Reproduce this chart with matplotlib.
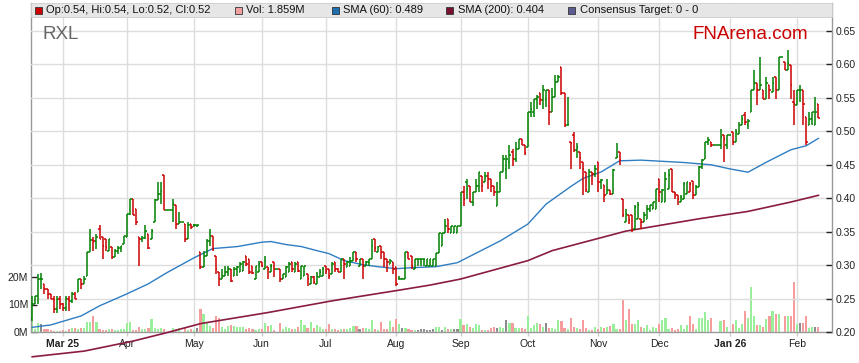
import numpy as np
import pandas as pd
import matplotlib
matplotlib.use("Agg")
import matplotlib.pyplot as plt
from matplotlib.collections import LineCollection
from matplotlib.patches import Rectangle

plt.rcParams['font.family'] = ['Liberation Sans', 'DejaVu Sans']

# ---- data, one bar per weekday 17 Feb 2025 - 11 Feb 2026 ----
opens = [
    .2200, .2415, .2540, .2790, .2715, .2640, .2565, .2490, .2340, .2490,  # Feb
    .2415, .2360, .2490, .2465, .2565, .2590, .2790, .2715, .2840, .3190, .3370, .3365, .3540, .3415, .3390, .3215, .3265, .3115, .3215, .3260, .3315,  # Mar
    .3415, .3765, .3990, .3840, .3415, .3390, .3410, .3465, .3390, .3640, .3965, .4065, .4340, .3815, .3815, .3815, .3890, .3615, .3640, .3615, .3390, .3615,  # Apr
    .3590, .3590, .3190, .2965, .3140, .3365, .3440, .3140, .2890, .2790, .2840, .2890, .2940, .2840, .2940, .2890, .2915, .3140, .3090, .2990, .2790, .2890,  # May
    .3040, .2940, .2965, .2890, .3040, .2940, .2940, .2790, .2815, .2890, .3040, .2890, .3040, .2790, .2840, .2865, .2715, .2815, .2715, .2815, .2840,  # Jun
    .2990, .2940, .2865, .3040, .2940, .2890, .3090, .2965, .2990, .3065, .3190, .2990, .3090, .2990, .3040, .3090, .3390, .3190, .3290, .3190, .3090, .3015, .3040,  # Jul
    .2965, .2790, .2790, .2790, .3190, .3140, .2940, .3090, .3090, .3090, .2990, .2990, .2985, .2985, .3185, .3285, .3485, .3685, .3485, .3485, .3485,  # Aug
    .3585, .4085, .4235, .4185, .3935, .4085, .4185, .4335, .4235, .4335, .4285, .4185, .3885, .4085, .4385, .4435, .4535, .4685, .4585, .4735, .4885, .4785,  # Sep
    .4760, .5285, .5285, .5485, .5560, .5460, .5460, .5610, .5285, .5510, .5735, .5960, .5560, .5085, .4840, .4940, .4715, .4690, .4540, .4390, .4090, .4390, .4365,  # Oct
    .4540, .4240, .4190, .4065, .4115, .4065, .4590, .4690, .3990, .3640, .3740, .3740, .3540, .3690, .3690, .3640, .3690, .3840, .3840, .3840,  # Nov
    .4290, .3940, .3940, .4140, .4440, .4090, .4040, .3940, .3990, .4065, .4090, .4260, .4040, .4160, .4460, .4585, .4835, .4835, .4785, .4785, .4785, .4935, .4785,  # Dec
    .4935, .4985, .4835, .4960, .5085, .5235, .5085, .5285, .5610, .5710, .5610, .5610, .5485, .5685, .5585, .5810, .5610, .6110, .6035, .5910, .5985, .5435,  # Jan
    .5385, .5610, .5610, .5210, .5085, .5185, .5085, .5400,  # Feb
]
highs = [
    .2540, .2540, .2865, .2880, .2715, .2640, .2565, .2540, .2540, .2540,
    .2440, .2540, .2540, .2590, .2590, .2790, .2790, .2840, .3190, .3540, .3415, .3465, .3590, .3415, .3390, .3390, .3265, .3240, .3290, .3290, .3440,
    .3765, .3990, .3990, .3840, .3415, .3440, .3590, .3465, .3540, .3990, .4240, .4240, .4340, .3815, .3815, .3990, .3890, .3790, .3640, .3615, .3640, .3615,
    .3615, .3600, .3190, .3215, .3390, .3540, .3440, .3140, .2890, .2940, .2990, .2990, .2940, .2965, .2990, .3040, .3065, .3140, .3090, .2990, .2990, .3065,
    .3040, .3140, .2965, .3015, .3040, .2940, .2940, .2865, .2990, .3040, .3040, .3040, .3040, .2990, .2990, .2865, .2840, .2840, .2890, .2940, .2965,
    .2990, .2940, .3040, .3040, .2960, .3090, .3090, .3065, .3115, .3190, .3190, .3090, .3090, .3060, .3090, .3390, .3390, .3290, .3290, .3190, .3090, .3090, .3040,
    .2965, .2840, .2810, .3190, .3190, .3140, .3090, .3090, .3090, .3090, .3090, .3090, .3090, .3185, .3485, .3485, .3685, .3685, .3585, .3585, .3585,
    .4085, .4185, .4285, .4185, .4085, .4285, .4385, .4335, .4385, .4385, .4285, .4185, .4235, .4385, .4635, .4635, .4785, .4735, .4835, .4885, .4885, .4785,
    .5285, .5435, .5485, .5535, .5560, .5685, .5610, .5610, .5635, .5835, .5835, .5960, .5570, .5510, .4840, .4990, .4815, .4690, .4540, .4390, .4440, .4390, .4490,
    .4540, .4290, .4190, .4290, .4115, .4440, .4815, .4690, .3990, .3840, .3740, .3740, .3890, .3940, .3690, .3790, .3890, .3890, .3940, .4140,
    .4290, .4140, .4390, .4440, .4440, .4090, .4040, .4040, .4240, .4240, .4240, .4260, .4190, .4485, .4585, .4835, .4910, .4835, .4785, .4785, .5035, .4935, .4935,
    .4935, .4985, .5035, .5135, .5235, .5285, .5185, .5610, .5910, .5710, .6110, .5610, .5810, .5685, .5810, .5810, .6110, .6110, .6035, .6210, .5985, .5610,
    .5610, .5685, .5610, .5210, .5285, .5285, .5510, .5400,
]
lows = [
    .2165, .2415, .2415, .2640, .2565, .2490, .2490, .2290, .2290, .2340,
    .2315, .2315, .2315, .2440, .2490, .2590, .2640, .2715, .2840, .3190, .3215, .3240, .3390, .3090, .3215, .3215, .3090, .3115, .3165, .3190, .3315,
    .3415, .3740, .3740, .3590, .2990, .3340, .3390, .3240, .3390, .3640, .3965, .3915, .3815, .3815, .3815, .3640, .3540, .3615, .3640, .3340, .3390, .3540,
    .3570, .3570, .2940, .2965, .3140, .3290, .3215, .2865, .2690, .2790, .2840, .2840, .2740, .2840, .2840, .2890, .2915, .2990, .2865, .2865, .2790, .2890,
    .2965, .2940, .2790, .2890, .2815, .2940, .2740, .2790, .2815, .2890, .2890, .2890, .2890, .2790, .2840, .2690, .2715, .2715, .2715, .2815, .2840,
    .2865, .2790, .2865, .2890, .2890, .2890, .2790, .2965, .2990, .3065, .3040, .2990, .2790, .2990, .2990, .3090, .3190, .3190, .3090, .2965, .2890, .3015, .2865,
    .2690, .2790, .2790, .2790, .3090, .2940, .2940, .2990, .2990, .2990, .2990, .2990, .2985, .2985, .3185, .3285, .3485, .3485, .3485, .3485, .3485,
    .3585, .3885, .3985, .3935, .3885, .4085, .4085, .4085, .4235, .4135, .4085, .4035, .3885, .4085, .4385, .4285, .4435, .4485, .4535, .4735, .4785, .4635,
    .4760, .5210, .5210, .5335, .5385, .5335, .5360, .5085, .5285, .5510, .5735, .5535, .5060, .5085, .4440, .4690, .4590, .4440, .4040, .4090, .4090, .4190, .4315,
    .4090, .4140, .3940, .4065, .4040, .4065, .4590, .4490, .3715, .3640, .3615, .3490, .3540, .3690, .3540, .3640, .3690, .3790, .3840, .3840,
    .3940, .3940, .3940, .4140, .4090, .3990, .3890, .3940, .3990, .4065, .4090, .3985, .4040, .4160, .4435, .4585, .4785, .4760, .4785, .4785, .4735, .4535, .4735,
    .4935, .4785, .4835, .4960, .5085, .5085, .5035, .5285, .5610, .5385, .5610, .5485, .5485, .5485, .5585, .5485, .5610, .6110, .5910, .5910, .5485, .5085,
    .5385, .5435, .5085, .4785, .5085, .5085, .5085, .5200,
]
closes = [
    .2415, .2540, .2790, .2790, .2640, .2565, .2490, .2340, .2490, .2415,
    .2360, .2490, .2465, .2565, .2490, .2790, .2715, .2790, .3190, .3370, .3365, .3420, .3395, .3290, .3265, .3390, .3115, .3215, .3260, .3290, .3440,
    .3765, .3990, .3740, .3640, .3390, .3410, .3510, .3260, .3510, .3965, .4065, .4100, .3815, .3815, .3815, .3915, .3615, .3640, .3640, .3390, .3590, .3565,
    .3590, .3590, .2965, .3140, .3365, .3440, .3240, .2940, .2790, .2840, .2890, .2940, .2760, .2940, .2965, .3015, .3040, .3015, .2890, .2875, .2980, .3015,
    .2980, .3065, .2940, .2990, .2940, .2940, .2790, .2865, .2965, .3015, .2940, .3015, .2915, .2980, .2990, .2790, .2815, .2740, .2840, .2890, .2940,
    .2915, .2840, .3015, .2940, .2890, .3090, .3015, .3040, .3065, .3190, .3090, .3090, .2990, .3040, .3090, .3290, .3260, .3265, .3190, .3090, .3040, .3065, .2940,
    .2715, .2790, .2790, .3190, .3090, .2990, .3090, .3090, .3090, .3090, .3090, .3090, .3090, .3185, .3485, .3485, .3585, .3535, .3585, .3585, .3585,
    .4085, .3985, .4135, .3935, .4085, .4185, .4385, .4185, .4335, .4285, .4185, .4085, .4085, .4385, .4585, .4585, .4635, .4585, .4735, .4885, .4785, .4665,
    .5285, .5335, .5485, .5510, .5460, .5610, .5610, .5285, .5510, .5735, .5810, .5560, .5085, .5090, .4815, .4715, .4765, .4590, .4440, .4115, .4390, .4365, .4440,
    .4240, .4265, .4040, .4115, .4065, .4415, .4615, .4565, .3740, .3765, .3665, .3515, .3865, .3890, .3640, .3740, .3840, .3890, .3940, .4140,
    .4090, .4115, .4290, .4340, .4090, .4065, .3990, .4015, .4215, .4240, .4215, .4040, .4165, .4460, .4560, .4835, .4860, .4785, .4785, .4785, .4910, .4885, .4935,
    .4935, .4835, .4985, .5085, .5185, .5135, .5155, .5610, .5710, .5610, .5685, .5485, .5710, .5610, .5710, .5610, .6110, .6110, .5910, .6010, .5685, .5410,
    .5610, .5610, .5410, .4835, .5185, .5285, .5285, .5200,
]
volumes = [  # millions
    4.1, 1.2, 3.2, 2.9, 1.0, 1.2, 0.6, 0.5, 0.5, 0.4,
    0.6, 0.5, 1.2, 1.6, 1.6, 1.2, 1.6, 1.4, 3.8, 3.6, 5.8, 3.8, 1.0, 0.9, 0.7, 1.0, 1.2, 0.8, 0.7, 1.0, 1.0,
    3.4, 3.8, 0.8, 0.8, 1.7, 1.2, 1.0, 1.4, 4.8, 1.6, 1.0, 1.6, 1.0, 0, 0, 1.3, 1.2, 1.6, 0, 1.5, 0.8, 1.2,
    0.8, 1.6, 8.5, 6.5, 3.3, 2.2, 1.4, 6.0, 5.2, 2.0, 1.2, 2.2, 2.7, 2.2, 2.0, 2.0, 2.0, 1.2, 1.6, 1.0, 0.8, 1.0,
    1.2, 3.2, 2.2, 2.6, 0.7, 0, 3.2, 1.2, 1.7, 1.6, 1.2, 1.0, 1.7, 4.5, 2.6, 1.4, 3.6, 1.6, 2.6, 2.0, 1.0,
    1.2, 2.8, 1.2, 1.0, 0.9, 1.0, 1.2, 1.0, 1.4, 2.2, 2.2, 1.2, 1.5, 1.5, 1.0, 4.5, 1.2, 0.7, 3.8, 1.2, 1.0, 4.0, 2.0,
    4.7, 2.8, 1.6, 1.4, 1.0, 0.7, 0.8, 0.7, 1.0, 1.2, 0.7, 0.8, 1.2, 2.0, 2.0, 0.7, 2.0, 1.0, 1.0, 1.0, 1.2,
    4.7, 2.5, 2.8, 2.0, 1.6, 2.8, 2.5, 0.7, 0.7, 0.7, 1.6, 2.0, 1.5, 2.0, 1.6, 4.5, 3.3, 3.3, 1.6, 1.6, 1.6, 1.2,
    5.8, 1.5, 2.5, 3.3, 3.0, 2.0, 3.3, 1.6, 1.6, 1.2, 4.5, 3.9, 1.5, 1.2, 5.0, 2.0, 1.6, 1.2, 4.5, 1.4, 0.7, 0.7, 2.0,
    1.2, 2.0, 1.6, 1.9, 2.2, 2.8, 1.0, 1.2, 11.9, 4.3, 8.2, 2.9, 2.8, 4.3, 2.0, 1.4, 2.4, 0.7, 2.0, 1.6,
    2.8, 4.2, 5.1, 1.2, 1.6, 0.9, 1.2, 2.4, 1.2, 2.4, 5.8, 2.8, 1.2, 5.1, 5.1, 7.3, 4.2, 5.0, 0, 0, 3.9, 4.3, 2.0,
    0, 2.8, 4.3, 1.6, 2.9, 7.8, 5.0, 16.4, 5.9, 2.5, 2.5, 2.0, 4.6, 5.9, 7.5, 6.6, 6.6, 0, 5.8, 5.9, 5.8, 18.2,
    2.8, 3.1, 3.1, 5.7, 1.6, 2.0, 2.0, 1.859,
]
# moving averages read at points along the lines (bar index, value)
sma60_x = [0, 6, 16, 22, 31, 38, 44, 53, 59, 67, 75, 78, 83, 88, 93, 97, 102, 108, 113, 119,
           124, 132, 139, 153, 162, 168, 176, 180, 186, 192, 199, 205, 213, 222, 228, 234, 240, 248, 253, 257]
sma60_y = [.207, .2105, .224, .239, .257, .272, .2885, .311, .3245, .3275, .334, .335, .3305, .3275, .3215, .317,
           .3065, .3005, .2975, .2945, .296, .2975, .3035, .336, .361, .391, .417, .429, .439, .4555, .4565,
           .455, .453, .4495, .4435, .4385, .4535, .472, .478, .489]
sma200_x = [0, 17, 33, 44, 55, 77, 98, 120, 130, 140, 162, 170, 194, 205, 218, 234, 248, 257]
sma200_y = [.163, .1715, .1865, .199, .2125, .229, .2465, .2625, .27, .279, .3065, .3215, .3505,
            .359, .369, .38, .394, .404]

dates = pd.bdate_range('2025-02-17', '2026-02-11')
opens, highs, lows, closes, volumes = map(np.array, (opens, highs, lows, closes, volumes))
n = len(closes)
x = np.arange(n)

W, H = 859, 363
fig = plt.figure(figsize=(W / 100, H / 100), dpi=100)
L, R, T, B = 31, 832, 3, 332
axv = fig.add_axes([L / W, 1 - B / H, (R - L) / W, (B - T) / H])
ax = axv.twinx()

prev = np.r_[opens[0], closes[:-1]]
vcol = np.where(closes > prev, '#99EE99', np.where(closes < prev, '#F79C9C', '#8C8C8C'))
pcol = np.where(closes < prev, '#CC0000', '#008000')

# volume
axv.bar(x, volumes, width=0.7, color=vcol, linewidth=0, zorder=2)
axv.set_ylim(0, (B - T) / 2.75)
axv.set_yticks([0, 10, 20])
axv.set_yticklabels(['0M', '10M', '20M'])

# month ticks
months = dates.to_period('M')
mpos = [i for i in range(1, n) if months[i] != months[i - 1]]
mlab = []
for k, i in enumerate(mpos):
    d = dates[i]
    mlab.append(d.strftime('%b %y') if (k == 0 or d.month == 1) else d.strftime('%b'))
axv.set_xticks(mpos)
axv.set_xticklabels(mlab)
for t, s in zip(axv.get_xticklabels(), mlab):
    if ' ' in s:
        t.set_fontweight('bold')
axv.set_xlim(-0.4, (R - 32) / 3.06)
axv.grid(axis='x', color='#DDDDDD', linewidth=1)
axv.set_axisbelow(True)

# price
ax.set_ylim(0.20, 0.20 + (B - T) / 670)
yt = np.arange(0.20, 0.651, 0.05)
ax.set_yticks(yt)
ax.set_yticklabels([f'{v:.2f}' for v in yt])
ax.grid(axis='y', color='#DDDDDD', linewidth=1, zorder=0)
ax.set_axisbelow(True)

ax.plot(sma200_x, sma200_y, color='#8A1C42', lw=1.2, zorder=3, clip_on=False)
ax.plot(sma60_x, sma60_y, color='#2F7DC2', lw=1.0, zorder=3)

segs, cols = [], []
for i in range(n):
    segs += [[(i, lows[i]), (i, highs[i])],
             [(i - 0.5, opens[i]), (i, opens[i])],
             [(i, closes[i]), (i + 0.5, closes[i])]]
    cols += [pcol[i]] * 3
ax.add_collection(LineCollection(segs, colors=cols, linewidths=1.1, zorder=4, capstyle='butt'))

# spines / ticks
for a in (ax, axv):
    for s in a.spines.values():
        s.set_visible(False)
axv.spines['left'].set_visible(True)
axv.spines['bottom'].set_visible(True)
ax.spines['right'].set_visible(True)
for s in (axv.spines['left'], axv.spines['bottom'], ax.spines['right']):
    s.set_color('#999999')
    s.set_linewidth(1)
axv.tick_params(axis='y', direction='in', length=4, width=1, color='#222222',
                labelsize=7.5, labelcolor='#222222', pad=2)
axv.tick_params(axis='x', direction='out', length=3, width=1, color='#CCCCCC',
                labelsize=7.5, labelcolor='#222222', pad=2)
ax.tick_params(axis='y', direction='in', length=4, width=1, color='#222222',
               labelsize=7.5, labelcolor='#222222', pad=2.5)

# legend band
band = 14 / (B - T)
ax.add_patch(Rectangle((0, 1 - band), 1, band, transform=ax.transAxes, facecolor='#E6E6E6',
                       edgecolor='#CCCCCC', linewidth=0.6, zorder=10, clip_on=False))
items = [
    (35, '#CC0000', f'Op:{opens[-1]:.2f}, Hi:{highs[-1]:.2f}, Lo:{lows[-1]:.2f}, Cl:{closes[-1]:.2f}'),
    (235, '#F4A0A0', f'Vol: {volumes[-1]:.3f}M'),
    (331.5, '#1F6EB0', f'SMA (60): {sma60_y[-1]:.3f}'),
    (446, '#7A1030', f'SMA (200): {sma200_y[-1]:.3f}'),
    (568, '#5C5C90', 'Consensus Target: 0 - 0'),
]
for px0, c, s in items:
    fig.add_artist(Rectangle((px0 / W, 1 - 13.5 / H), 7 / W, 7 / H, transform=fig.transFigure,
                             facecolor=c, edgecolor='#333333', linewidth=0.6, zorder=20))
    fig.text((px0 + 11.5) / W, 1 - 10 / H, s, fontsize=8, color='#111111', va='center', ha='left', zorder=21)

fig.text(42 / W, 1 - 39 / H, 'RXL', fontsize=13.5, color='#666666', va='baseline', ha='left')
fig.text(693 / W, 1 - 39 / H, 'FNArena.com', fontsize=13.5, color='#CC0000', va='baseline', ha='left')

fig.savefig('out.png', dpi=100)
